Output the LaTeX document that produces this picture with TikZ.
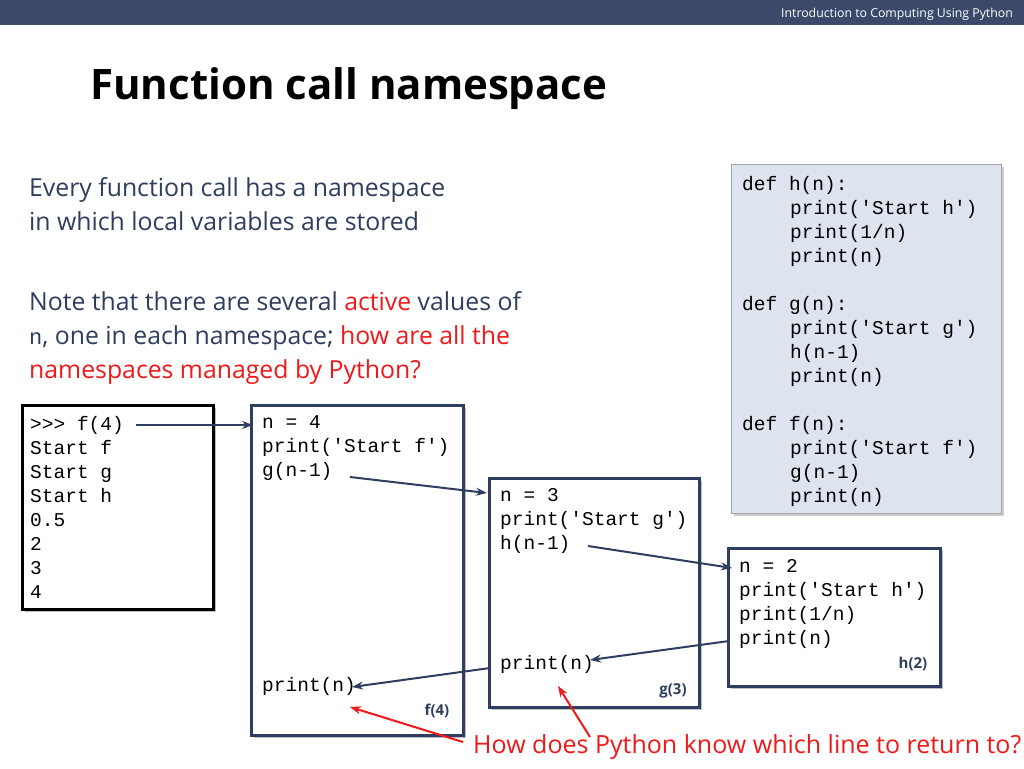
\documentclass[tikz,border=0pt]{standalone}
\usepackage{fontspec}
\setmainfont{Open Sans}
\setmonofont{Liberation Mono}
\usetikzlibrary{arrows.meta}
\definecolor{bar}{HTML}{3B4A6B}
\definecolor{bodyc}{HTML}{2E3C5E}
\definecolor{frm}{HTML}{2F3E60}
\definecolor{codebg}{HTML}{DDE3EF}
\definecolor{redc}{HTML}{F01818}
\tikzset{
 txt/.style={anchor=base west,inner sep=0,text=bodyc,font=\fontsize{24.8}{28}\selectfont},
 code/.style={anchor=base west,inner sep=0,font=\fontsize{19.5}{24}\ttfamily},
 frame/.style={draw=frm,line width=3pt,fill=white},
 flab/.style={anchor=base,inner sep=0,text=frm,font=\fontsize{15}{18}\bfseries},
 arr/.style={-{Stealth[length=11pt,width=8pt]},draw=frm,line width=2pt},
 rarr/.style={-{Stealth[length=11pt,width=8pt]},draw=redc,line width=2pt}
}
\begin{document}
\begin{tikzpicture}[x=1pt,y=-1pt]
\useasboundingbox (0,0) rectangle (1024,768);
\fill[bar] (0,0) rectangle (1024,25);
\node[anchor=base east,inner sep=0,text=white,font=\fontsize{12.3}{15}\selectfont] (hdr) at (1013,18) {Introduction to Computing Using Python};
\node[anchor=base west,inner sep=0,font=\fontsize{42}{48}\bfseries,text=black] (title) at (90,99) {Function call namespace};
\node[txt] (t1) at (29,196) {Every function call has a namespace};
\node[txt] (t2) at (29,230) {in which local variables are stored};
\node[txt] (t3) at (29,310) {Note that there are several \textcolor{redc}{active} values of};
\node[txt] (t4) at (29,344) {{\ttfamily\fontsize{22}{26}\selectfont n}, one in each namespace; \textcolor{redc}{how are all the}};
\node[txt,text=redc] (t5) at (29,378) {namespaces managed by Python?};
% code box
\fill[black!20] (734,167) rectangle (1004,516);
\draw[draw=gray!70,fill=codebg] (731,164) rectangle (1001,513);
\foreach \y/\x/\s [count=\i] in {190/742/{def h(n):},214/790/{print('Start h')},238/790/{print(1/n)},262/790/{print(n)},
 310/742/{def g(n):},334/790/{print('Start g')},358/790/{h(n-1)},382/790/{print(n)},
 430/742/{def f(n):},454/790/{print('Start f')},478/790/{g(n-1)},502/790/{print(n)}}
 \node[code] (c\i) at (\x,\y) {\s};
% shell box
\fill[black!25] (25,408) rectangle (216,612);
\draw[line width=3pt,fill=white] (22,405) rectangle (213,609);
\foreach \y/\s [count=\i] in {430/{>>> f(4)},454/{Start f},478/{Start g},502/{Start h},526/{0.5},550/{2},574/{3},598/{4}}
 \node[code] (s\i) at (30,\y) {\s};
% frames
\fill[black!25] (254,408) rectangle (466,738);
\draw[frame] (251,405) rectangle (463,735);
\fill[black!25] (492,481) rectangle (702,710);
\draw[frame] (489,478) rectangle (699,707);
\fill[black!25] (731,551) rectangle (943,689);
\draw[frame] (728,548) rectangle (940,686);
\node[code] (f1) at (262,428) {n = 4};
\node[code] (f2) at (262,452) {print('Start f')};
\node[code] (f3) at (262,476) {g(n-1)};
\node[code] (f4) at (262,691) {print(n)};
\node[flab] (fl) at (437,715) {f(4)};
\node[code] (g1) at (500,501) {n = 3};
\node[code] (g2) at (500,525) {print('Start g')};
\node[code] (g3) at (500,549) {h(n-1)};
\node[code] (g4) at (500,669) {print(n)};
\node[flab] (gl) at (673,694) {g(3)};
\node[code] (h1) at (739,572) {n = 2};
\node[code] (h2) at (739,596) {print('Start h')};
\node[code] (h3) at (739,620) {print(1/n)};
\node[code] (h4) at (739,644) {print(n)};
\node[flab] (hl) at (913,668) {h(2)};
\coordinate (x1) at (350,707);
\coordinate (x2) at (558,686);
\node[anchor=base west,inner sep=0,text=redc,font=\fontsize{25}{28}\selectfont] (q) at (473,753) {How does Python know which line to return to?};
% arrows
\draw[arr] (136,425) -- (253,425);
\draw[arr] (350,477) -- (487,493);
\draw[arr] (588,546) -- (732,568);
\draw[arr] (729,641) -- (590,660);
\draw[arr] (490,668) -- (352,687);
\draw[rarr] (463,742) -- (x1);
\draw[rarr] (590,737) -- (x2);
\end{tikzpicture}
\end{document}
